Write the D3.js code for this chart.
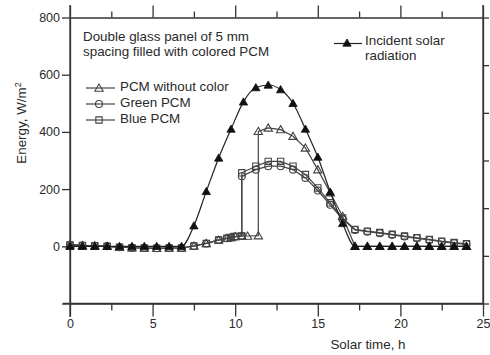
<!DOCTYPE html>
<html><head><meta charset="utf-8">
<script src="https://cdn.jsdelivr.net/npm/d3@7"></script>
<style>body{margin:0;background:#fff}svg{display:block}text{font-family:"Liberation Sans",Arial,sans-serif;fill:#2a2a2a}</style>
</head><body><svg id="c" width="490" height="355"></svg>
<script>
// ---- data ----
const solarT = [0,0.75,1.5,2.25,3,3.75,4.5,5.25,6,6.75,7.5,8.25,9,9.75,10.5,11.25,12,12.75,13.5,14.25,15,15.75,16.5,17.25,18,18.75,19.5,20.25,21,21.75,22.5,23.25,24];
const solarV = [0,0,0,0,0,0,0,0,0,0,72,192,309,410,505,555,564,548,500,410,312,190,80,0,0,0,0,0,0,0,0,0,0];

const nightT = [0,0.75,1.5,2.25,3,3.75,4.5,5.25,6,6.75,7.5,8.25,9,9.5,9.75,10,10.4];
const nightV = [5,3,2,0,-3,-5,-6,-7,-6,-6,1,10,22,28,31,34,36];

const clearT = [10.75,11.4,11.4,12,12.75,13.5,14.25,15,15.75,16.5,17.25,18,18.75,19.5,20.25,21,21.75,22.5,23.25,24];
const clearV = [36,37,402,414,408,385,344,268,187,105,0,0,0,0,0,0,0,0,0,0];

const dayT = [10.4,11.25,12,12.75,13.5,14.25,15,15.75,16.5,17.25,18,18.75,19.5,20.25,21,21.75,22.5,23.25,24];
const greenV = [245,268,280,280,268,239,195,145,95,57,51,46,40,34,28,22,16,11,7];
const blueV  = [257,280,297,297,280,251,204,152,99,59,53,48,42,36,30,24,18,13,9];

const xTicks = [0,5,10,15,20,25];
const yTicks = [800,600,400,200,0];

// ---- build series ----
const zip = (t,v)=>t.map((d,i)=>[d,v[i]]);
const night = zip(nightT,nightV);
const series = [
  {name:"PCM without color", marker:"tri-open", pts: night.concat(zip(clearT,clearV))},
  {name:"Green PCM", marker:"circle", pts: night.concat(zip(dayT,greenV))},
  {name:"Blue PCM", marker:"square", pts: night.concat(zip(dayT,blueV))},
  {name:"Incident solar radiation", marker:"tri-fill", pts: zip(solarT,solarV)}
];

const svg = d3.select("#c");
const x = d3.scaleLinear().domain([0,25]).range([70,483]);
const y = d3.scaleLinear().domain([-200,800]).range([303.5,17.5]);
const ink = "#333";

// frame axes
const minor = d3.range(0,25.01,2.5);
const fmtX = d => (xTicks.includes(d) ? d : "");
const gB = svg.append("g").attr("transform",`translate(0,${y(-200)})`)
  .call(d3.axisBottom(x).tickValues(minor).tickFormat(fmtX).tickSize(13).tickPadding(3).tickSizeOuter(0));
gB.selectAll(".tick line").attr("y2",d=>d%5===0?13:7);
const gT = svg.append("g").attr("transform",`translate(0,${y(800)})`)
  .call(d3.axisTop(x).tickValues(minor).tickFormat("").tickSize(12).tickSizeOuter(0));
gT.selectAll(".tick line").attr("y2",d=>d%5===0?-12:-6);
const gL = svg.append("g").attr("transform",`translate(${x(0)},0)`)
  .call(d3.axisLeft(y).tickValues([800,600,400,200,0,-200]).tickFormat(d=>yTicks.includes(d)?d:"").tickSize(8).tickPadding(2).tickSizeOuter(0));
const r6 = d3.scaleLinear().domain([0,6]).range([y(-200),y(800)]);
const gR = svg.append("g").attr("transform",`translate(${x(25)},0)`)
  .call(d3.axisRight(r6).ticks(6).tickFormat("").tickSize(6).tickSizeOuter(0));
[gB,gT,gL,gR].forEach(g=>{
  g.selectAll("path,line").attr("stroke",ink).attr("stroke-width",1.3);
  g.selectAll("text").attr("fill","#2a2a2a").style("font-family",'"Liberation Sans",Arial,sans-serif').style("font-size","12.5px");
});
// extend the axis lines a little past the corners
svg.append("line").attr("x1",x(0)).attr("x2",x(0)).attr("y1",5).attr("y2",317).attr("stroke",ink).attr("stroke-width",1.3);
svg.append("line").attr("x1",x(25)).attr("x2",x(25)).attr("y1",5).attr("y2",y(-200)).attr("stroke",ink).attr("stroke-width",1.3);
svg.append("line").attr("x1",63).attr("x2",x(25)).attr("y1",y(-200)).attr("y2",y(-200)).attr("stroke",ink).attr("stroke-width",1.3);

// markers
const triSym = d3.symbol().type(d3.symbolTriangle).size(30);
const sqSym = d3.symbol().type(d3.symbolSquare).size(40);
const ciSym = d3.symbol().type(d3.symbolCircle).size(38);
function drawMarker(g, kind, cx, cy){
  let p;
  if(kind==="tri-open"||kind==="tri-fill") p = g.append("path").attr("d",triSym()).attr("transform",`translate(${cx},${cy+0.8})`);
  else if(kind==="square") p = g.append("path").attr("d",sqSym()).attr("transform",`translate(${cx},${cy})`);
  else p = g.append("path").attr("d",ciSym()).attr("transform",`translate(${cx},${cy})`);
  if(kind==="tri-fill") p.attr("fill","#111").attr("stroke","#111").attr("stroke-width",0.8);
  else p.attr("fill","none").attr("stroke","#444").attr("stroke-width",1.1);
}

const lineLin = d3.line().x(d=>x(d[0])).y(d=>y(d[1])).curve(d3.curveLinear);
const lineSm = d3.line().x(d=>x(d[0])).y(d=>y(d[1])).curve(d3.curveMonotoneX);
series.forEach(s=>{
  const g = svg.append("g");
  const gen = s.marker==="tri-fill" ? lineSm : lineLin;
  g.append("path").attr("d",gen(s.pts)).attr("fill","none").attr("stroke",s.marker==="tri-fill"?"#222":"#444").attr("stroke-width",1.2);
  s.pts.forEach(p=>drawMarker(g,s.marker,x(p[0]),y(p[1])));
});

// annotation
const ann = svg.append("g").style("font-size","13.4px");
ann.append("text").attr("x",83).attr("y",41).text("Double glass panel of 5 mm");
ann.append("text").attr("x",83).attr("y",55.5).text("spacing filled with colored PCM");

// legend left
const leg = svg.append("g");
[0,1,2].forEach((i)=>{
  const s = series[i];
  const ly = [88,104,120][i];
  leg.append("line").attr("x1",86).attr("x2",115).attr("y1",ly).attr("y2",ly).attr("stroke","#444").attr("stroke-width",1.2);
  drawMarker(leg,s.marker,99,ly);
  leg.append("text").attr("x",120).attr("y",ly+2.5).style("font-size","13.4px").text(s.name);
});
// legend right
leg.append("line").attr("x1",334).attr("x2",362).attr("y1",43.5).attr("y2",43.5).attr("stroke","#222").attr("stroke-width",1.2);
drawMarker(leg,"tri-fill",347,43);
leg.append("text").attr("x",365).attr("y",45).style("font-size","13.4px").text("Incident solar");
leg.append("text").attr("x",365).attr("y",59.5).style("font-size","13.4px").text("radiation");

// axis titles
svg.append("text").attr("x",368).attr("y",349).attr("text-anchor","middle").style("font-size","13.4px").text("Solar time, h");
const yt = svg.append("text").attr("transform","translate(26,123) rotate(-90)").attr("text-anchor","middle").style("font-size","13.4px");
yt.append("tspan").text("Energy, W/m");
yt.append("tspan").attr("dy",-5).style("font-size","9px").text("2");
</script></body></html>
